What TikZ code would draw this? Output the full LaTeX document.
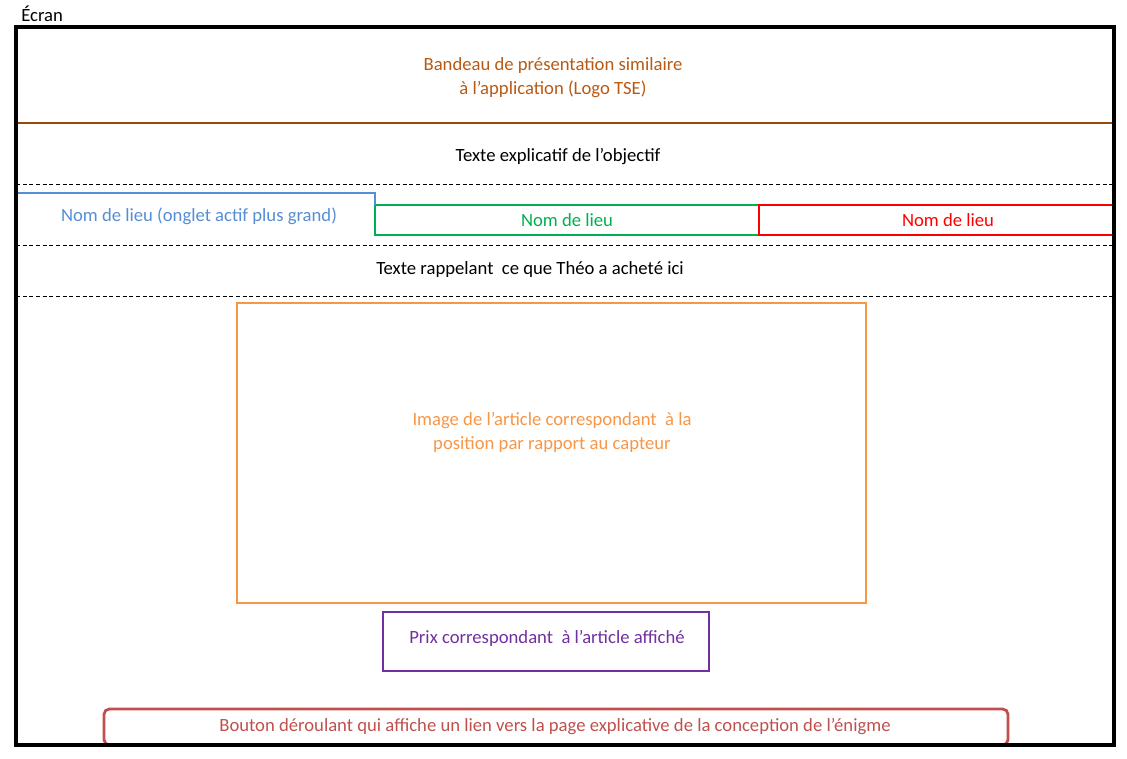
\documentclass[tikz,border=0pt]{standalone}
\usepackage{fontspec}
\setmainfont{Carlito}
\definecolor{bandline}{HTML}{984807}
\definecolor{bandtext}{HTML}{B85A14}
\definecolor{tabblue}{HTML}{558ED5}
\definecolor{tabgreen}{HTML}{00B050}
\definecolor{tabred}{HTML}{FF0000}
\definecolor{imgorange}{HTML}{F79646}
\definecolor{prixpurple}{HTML}{7030A0}
\definecolor{btnred}{HTML}{C0504D}
\begin{document}
\begin{tikzpicture}[x=0.75pt,y=-0.75pt,
  lbl/.style={font=\fontsize{14}{18}\selectfont, inner sep=0pt, align=center},
  sep/.style={dashed, dash pattern=on 3pt off 2pt, line width=0.75pt, black},
  box/.style={line width=2.1pt}]
\useasboundingbox (0,0) rectangle (1127,758);
% title
\node[lbl, anchor=base west] (ecran) at (21,21) {Écran};
% banner
\node[lbl, text=bandtext] (bandeau) at (553,78) {Bandeau de présentation similaire\\à l’application (Logo TSE)};
\draw[bandline, line width=1.5pt] (16,123) -- (1114,123);
\node[lbl] (objectif) at (558,157) {Texte explicatif de l’objectif};
\draw[sep] (16,184) -- (1114,184);
% tabs
\draw[box, tabgreen] (375,205) rectangle (759,235);
\node[lbl, text=tabgreen] (lieu2) at (567,220) {Nom de lieu};
\draw[box, tabred] (759,205) rectangle (1114,235);
\node[lbl, text=tabred] (lieu3) at (948,220) {Nom de lieu};
\draw[box, tabblue] (16,235) -- (16,193) -- (375,193) -- (375,205);
\node[lbl, text=tabblue] (lieu1) at (199,216) {Nom de lieu (onglet actif plus grand)};
\draw[sep] (16,245) -- (1114,245);
\node[lbl] (rappel) at (530,270) {Texte rappelant \ ce que Théo a acheté ici};
\draw[sep] (16,296) -- (1114,296);
% image
\draw[box, imgorange] (237,303) rectangle (866,603);
\node[lbl, text=imgorange] (image) at (552,432) {Image de l’article correspondant \ à la\\position par rapport au capteur};
% price
\draw[box, prixpurple] (383,612) rectangle (709,671);
\node[lbl, text=prixpurple] (prix) at (547,638) {Prix correspondant \ à l’article affiché};
% button
\draw[box, btnred, rounded corners=4pt] (104,709) rectangle (1008,745);
\node[lbl, text=btnred] (bouton) at (555,727) {Bouton déroulant qui affiche un lien vers la page explicative de la conception de l’énigme};
% screen frame
\draw[line width=2.5pt, black] (16,27) rectangle (1114,745);
\end{tikzpicture}
\end{document}
